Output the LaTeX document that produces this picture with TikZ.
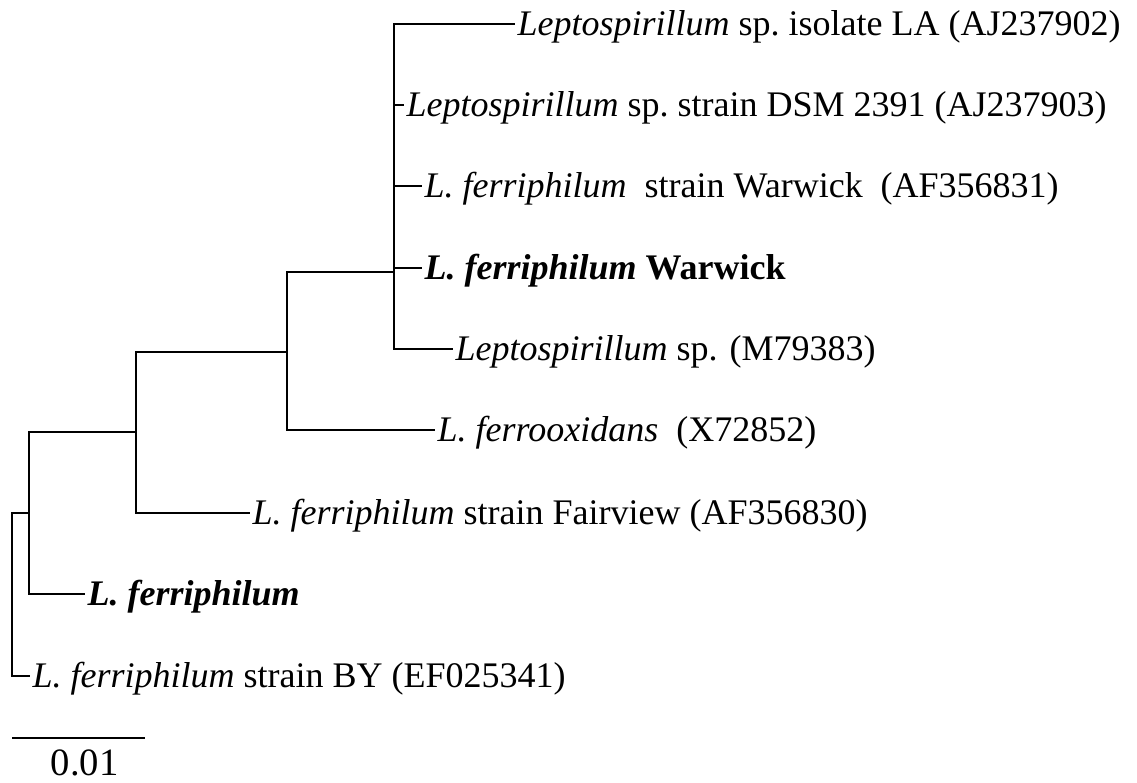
\documentclass[tikz,border=0pt]{standalone}
\usepackage{fontspec}
\setmainfont{Liberation Serif}
\usetikzlibrary{positioning, calc}
\definecolor{branchblack}{HTML}{000000}

\tikzset{
  branch/.style={draw=branchblack, line width=1.5pt},
  taxon/.style={anchor=west, inner xsep=2pt, inner ysep=0pt, outer sep=0pt,
    text height=18.9pt, text depth=1.1pt, font=\fontsize{27}{32}\selectfont}
}

\begin{document}
\begin{tikzpicture}[x=0.75pt, y=-0.75pt]
  \useasboundingbox (0,0) rectangle (1137,782);

  % internal nodes
  \coordinate (root) at (12,594);
  \coordinate (n1) at (29,513);
  \coordinate (n2) at (136,432);
  \coordinate (n3) at (287,352);
  \coordinate (n4) at (394,272);

  % taxa
  \node[taxon] (la) at (515,24) {\textit{Leptospirillum} sp.\ isolate LA (AJ237902)};
  \node[taxon] (dsm) at (404,105) {\textit{Leptospirillum} sp.\ strain DSM 2391 (AJ237903)};
  \node[taxon] (af1) at (422,186) {\textit{L. ferriphilum}\ \ strain Warwick\ \ (AF356831)};
  \node[taxon] (war) at (422,268) {\textbf{\textit{L. ferriphilum} Warwick}};
  \node[taxon] (m79) at (453,349) {\textit{Leptospirillum} sp. (M79383)};
  \node[taxon] (fox) at (435,430) {\textit{L. ferrooxidans}\ \ (X72852)};
  \node[taxon] (fv) at (250,513) {\textit{L. ferriphilum} strain Fairview (AF356830)};
  \node[taxon] (lf) at (85,594) {\textbf{\textit{L. ferriphilum}}};
  \node[taxon] (by) at (30,676) {\textit{L. ferriphilum} strain BY (EF025341)};

  % branches
  \draw[branch] (n1) -| (root) |- (by);
  \draw[branch] (n1) |- (n2);
  \draw[branch] (n1) |- (lf);
  \draw[branch] (n2) |- (n3);
  \draw[branch] (n2) |- (fv);
  \draw[branch] (n3) |- (n4);
  \draw[branch] (n3) |- (fox);
  \draw[branch] (n4) |- (la);
  \draw[branch] (n4) |- (dsm);
  \draw[branch] (n4) |- (af1);
  \draw[branch] (n4) |- (war);
  \draw[branch] (n4) |- (m79);

  % scale bar
  \coordinate (sb1) at (12,738);
  \coordinate (sb2) at (145,738);
  \draw[line width=1pt] (sb1) -- (sb2);
  \node[font=\fontsize{29}{34}\selectfont, anchor=base] (scale) at ($(sb1)!0.5!(sb2)+(6,37)$) {0.01};
\end{tikzpicture}
\end{document}
